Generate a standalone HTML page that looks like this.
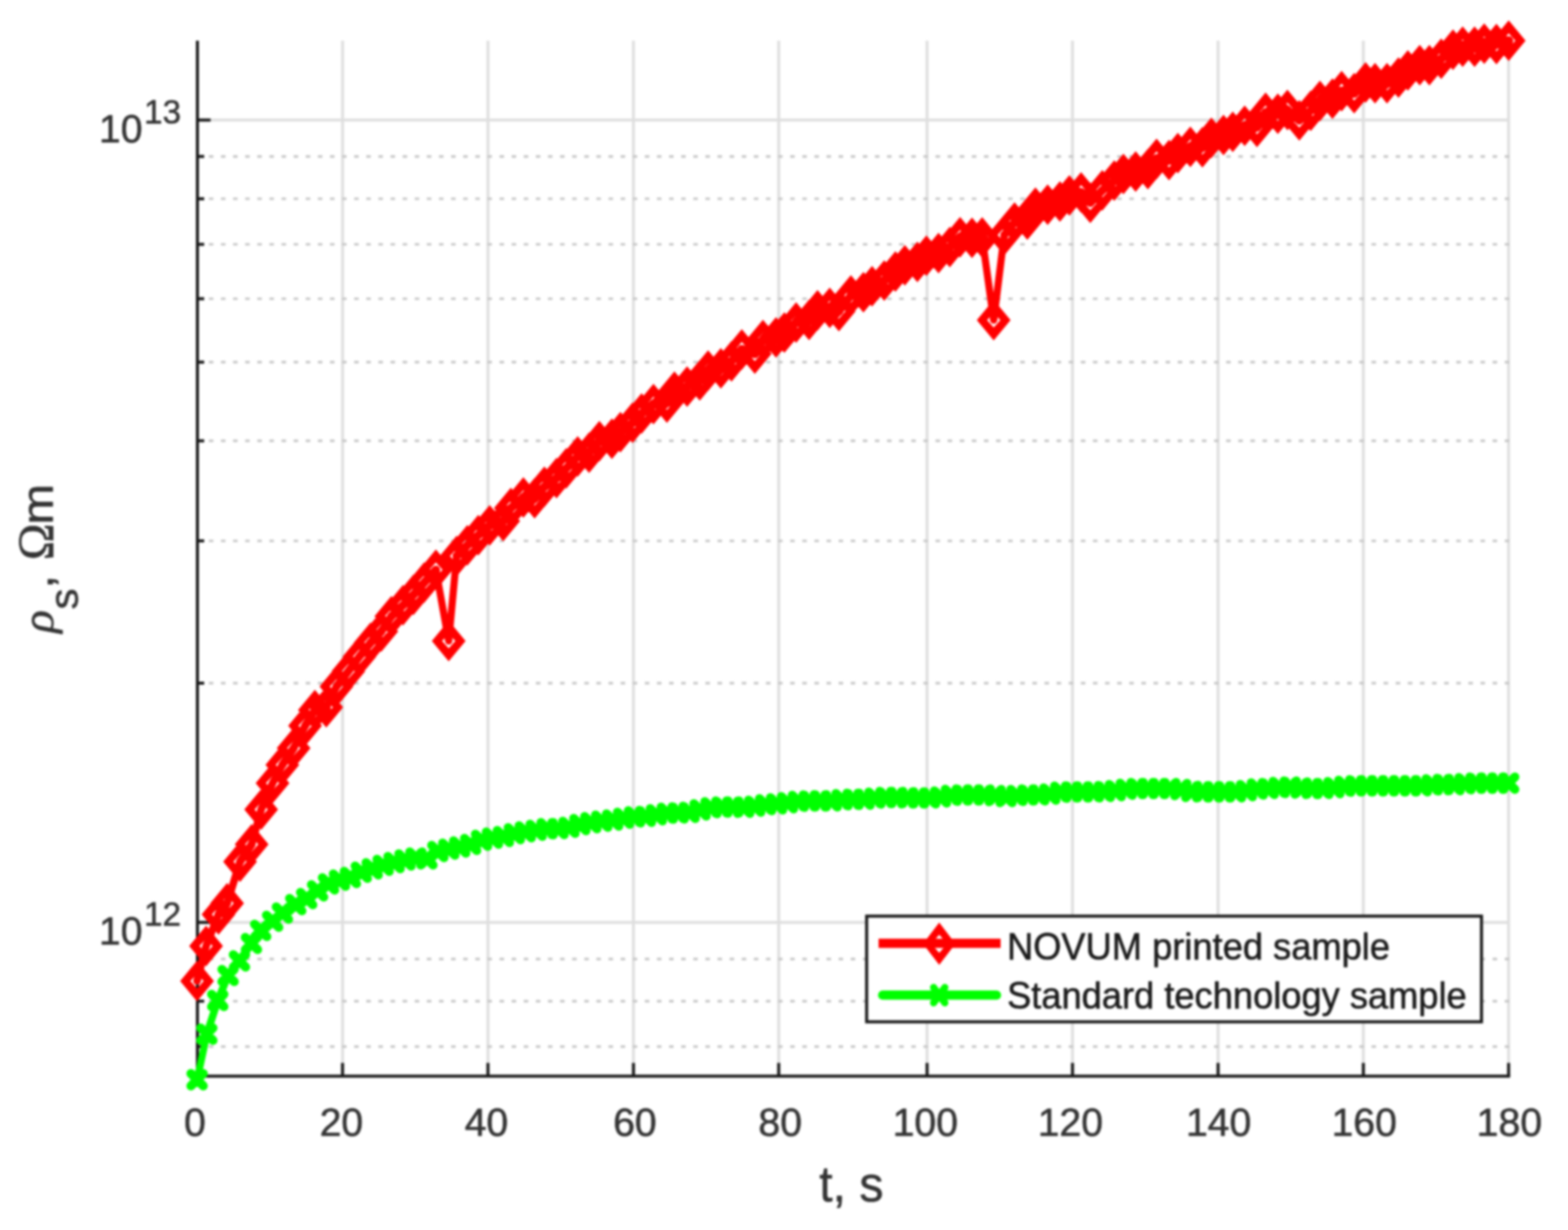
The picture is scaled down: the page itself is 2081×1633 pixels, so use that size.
<!DOCTYPE html>
<html lang="en">
<head>
<meta charset="utf-8">
<title>Surface resistivity vs time</title>
<style>
html,body{margin:0;padding:0;background:#fff;}
body{width:2081px;height:1633px;overflow:hidden;}
svg{display:block;filter:blur(1.5px);}
</style>
</head>
<body>
<svg width="2081" height="1633" viewBox="0 0 2081 1633">
<rect x="0" y="0" width="2081" height="1633" fill="#ffffff"/>
<g stroke="#dedede" stroke-width="3.8" fill="none">
<line x1="454.6" y1="53.9" x2="454.6" y2="1428.7"/>
<line x1="647.6" y1="53.9" x2="647.6" y2="1428.7"/>
<line x1="840.7" y1="53.9" x2="840.7" y2="1428.7"/>
<line x1="1033.5" y1="53.9" x2="1033.5" y2="1428.7"/>
<line x1="1230.4" y1="53.9" x2="1230.4" y2="1428.7"/>
<line x1="1423.4" y1="53.9" x2="1423.4" y2="1428.7"/>
<line x1="1616.6" y1="53.9" x2="1616.6" y2="1428.7"/>
<line x1="1809.4" y1="53.9" x2="1809.4" y2="1428.7"/>
<line x1="2002.2" y1="53.9" x2="2002.2" y2="1428.7"/>
<line x1="262.0" y1="1224.6" x2="2002.2" y2="1224.6"/>
<line x1="262.0" y1="159.4" x2="2002.2" y2="159.4"/>
</g>
<g stroke="#c8c8c8" stroke-width="3.4" fill="none" stroke-dasharray="6 10.073">
<line x1="277.2" y1="1389.5" x2="2004.2" y2="1389.5"/>
<line x1="277.2" y1="1329.2" x2="2004.2" y2="1329.2"/>
<line x1="277.2" y1="1273.2" x2="2004.2" y2="1273.2"/>
<line x1="277.2" y1="907.0" x2="2004.2" y2="907.0"/>
<line x1="277.2" y1="718.1" x2="2004.2" y2="718.1"/>
<line x1="277.2" y1="585.3" x2="2004.2" y2="585.3"/>
<line x1="277.2" y1="480.8" x2="2004.2" y2="480.8"/>
<line x1="277.2" y1="396.6" x2="2004.2" y2="396.6"/>
<line x1="277.2" y1="324.4" x2="2004.2" y2="324.4"/>
<line x1="277.2" y1="263.9" x2="2004.2" y2="263.9"/>
<line x1="277.2" y1="207.7" x2="2004.2" y2="207.7"/>
</g>
<g stroke="#181818" stroke-width="4.0" fill="none" stroke-linecap="butt">
<line x1="262.0" y1="53.9" x2="262.0" y2="1430.7"/>
<line x1="260.0" y1="1428.7" x2="2004.2" y2="1428.7"/>
<line x1="262.0" y1="1428.7" x2="262.0" y2="1411.2"/>
<line x1="454.6" y1="1428.7" x2="454.6" y2="1411.2"/>
<line x1="647.6" y1="1428.7" x2="647.6" y2="1411.2"/>
<line x1="840.7" y1="1428.7" x2="840.7" y2="1411.2"/>
<line x1="1033.5" y1="1428.7" x2="1033.5" y2="1411.2"/>
<line x1="1230.4" y1="1428.7" x2="1230.4" y2="1411.2"/>
<line x1="1423.4" y1="1428.7" x2="1423.4" y2="1411.2"/>
<line x1="1616.6" y1="1428.7" x2="1616.6" y2="1411.2"/>
<line x1="1809.4" y1="1428.7" x2="1809.4" y2="1411.2"/>
<line x1="2002.2" y1="1428.7" x2="2002.2" y2="1411.2"/>
<line x1="262.0" y1="1224.6" x2="279.5" y2="1224.6"/>
<line x1="262.0" y1="159.4" x2="279.5" y2="159.4"/>
<line x1="262.0" y1="1389.5" x2="271.0" y2="1389.5"/>
<line x1="262.0" y1="1329.2" x2="271.0" y2="1329.2"/>
<line x1="262.0" y1="1273.2" x2="271.0" y2="1273.2"/>
<line x1="262.0" y1="907.0" x2="271.0" y2="907.0"/>
<line x1="262.0" y1="718.1" x2="271.0" y2="718.1"/>
<line x1="262.0" y1="585.3" x2="271.0" y2="585.3"/>
<line x1="262.0" y1="480.8" x2="271.0" y2="480.8"/>
<line x1="262.0" y1="396.6" x2="271.0" y2="396.6"/>
<line x1="262.0" y1="324.4" x2="271.0" y2="324.4"/>
<line x1="262.0" y1="263.9" x2="271.0" y2="263.9"/>
<line x1="262.0" y1="207.7" x2="271.0" y2="207.7"/>
</g>
<g stroke="#ff0000" fill="none" stroke-linejoin="round" stroke-linecap="round">
<path stroke-width="10.0" d="M261.5 1302.5L273.5 1256.0L290.0 1214.0"/>
<path stroke-width="10.5" d="M290.0 1214.0L301.4 1199.3"/>
<path stroke-width="10.0" d="M301.4 1199.3L318.6 1144.0"/>
<path stroke-width="10.5" d="M318.6 1144.0L334.0 1121.0"/>
<path stroke-width="10.0" d="M334.0 1121.0L346.6 1074.7L361.7 1039.8L374.7 1015.5"/>
<path stroke-width="10.5" d="M374.7 1015.5L389.7 993.2"/>
<path stroke-width="10.0" d="M389.7 993.2L404.9 963.6"/>
<path stroke-width="10.5" d="M404.9 963.6L417.9 942.7"/>
<path stroke-width="12.0" d="M417.9 942.7L433.0 939.0"/>
<path stroke-width="10.0" d="M433.0 939.0L446.5 911.5"/>
<path stroke-width="10.5" d="M446.5 911.5L462.5 891.0L476.9 871.9L491.7 853.6"/>
<path stroke-width="11.0" d="M491.7 853.6L506.1 838.2"/>
<path stroke-width="10.5" d="M506.1 838.2L519.4 818.3"/>
<path stroke-width="11.0" d="M519.4 818.3L534.9 803.6L548.9 789.5L562.9 773.6L578.5 756.5"/>
<path stroke-width="9.5" d="M578.5 756.5L595.5 851.0L606.0 738.2"/>
<path stroke-width="11.0" d="M606.0 738.2L620.2 724.0L634.8 710.5L649.9 697.5"/>
<path stroke-width="12.0" d="M649.9 697.5L667.9 691.7"/>
<path stroke-width="10.5" d="M667.9 691.7L678.0 674.4"/>
<path stroke-width="11.0" d="M678.0 674.4L694.6 660.6"/>
<path stroke-width="12.5" d="M694.6 660.6L709.5 661.5"/>
<path stroke-width="10.5" d="M709.5 661.5L722.5 646.2"/>
<path stroke-width="11.5" d="M722.5 646.2L738.6 634.8"/>
<path stroke-width="11.0" d="M738.6 634.8L751.5 621.8L766.7 606.0"/>
<path stroke-width="12.0" d="M766.7 606.0L781.8 600.9"/>
<path stroke-width="11.0" d="M781.8 600.9L795.5 585.8"/>
<path stroke-width="12.0" d="M795.5 585.8L812.1 582.5"/>
<path stroke-width="11.5" d="M812.1 582.5L823.4 573.7L839.5 561.3"/>
<path stroke-width="11.0" d="M839.5 561.3L851.5 549.0"/>
<path stroke-width="11.5" d="M851.5 549.0L867.3 536.4"/>
<path stroke-width="12.5" d="M867.3 536.4L885.1 534.5"/>
<path stroke-width="10.5" d="M885.1 534.5L895.1 520.1"/>
<path stroke-width="12.0" d="M895.1 520.1L911.9 513.2L928.7 505.0"/>
<path stroke-width="10.5" d="M928.7 505.0L939.8 492.0"/>
<path stroke-width="12.0" d="M939.8 492.0L956.7 489.1"/>
<path stroke-width="11.5" d="M956.7 489.1L970.8 479.7"/>
<path stroke-width="11.0" d="M970.8 479.7L984.5 463.9"/>
<path stroke-width="12.0" d="M984.5 463.9L1001.8 469.6"/>
<path stroke-width="10.5" d="M1001.8 469.6L1012.6 451.6"/>
<path stroke-width="12.0" d="M1012.6 451.6L1029.9 448.0"/>
<path stroke-width="11.5" d="M1029.9 448.0L1041.0 441.5"/>
<path stroke-width="11.0" d="M1041.0 441.5L1056.6 428.2"/>
<path stroke-width="12.0" d="M1056.6 428.2L1073.8 424.8"/>
<path stroke-width="11.0" d="M1073.8 424.8L1085.0 411.9"/>
<path stroke-width="12.0" d="M1085.0 411.9L1101.2 408.8L1113.4 413.1"/>
<path stroke-width="10.5" d="M1113.4 413.1L1129.3 392.2"/>
<path stroke-width="12.0" d="M1129.3 392.2L1145.9 387.9"/>
<path stroke-width="11.5" d="M1145.9 387.9L1157.4 379.9"/>
<path stroke-width="12.0" d="M1157.4 379.9L1173.5 372.4"/>
<path stroke-width="11.0" d="M1173.5 372.4L1188.4 360.5"/>
<path stroke-width="11.5" d="M1188.4 360.5L1200.9 352.2"/>
<path stroke-width="12.0" d="M1200.9 352.2L1217.5 347.8"/>
<path stroke-width="11.5" d="M1217.5 347.8L1229.5 339.6"/>
<path stroke-width="12.0" d="M1229.5 339.6L1245.6 336.0"/>
<path stroke-width="11.5" d="M1245.6 336.0L1260.5 328.0"/>
<path stroke-width="11.0" d="M1260.5 328.0L1274.2 315.1"/>
<path stroke-width="12.5" d="M1274.2 315.1L1290.0 315.8L1303.5 315.3"/>
<path stroke-width="9.5" d="M1303.5 315.3L1318.8 425.0L1332.8 312.0"/>
<path stroke-width="10.5" d="M1332.8 312.0L1346.5 295.5"/>
<path stroke-width="12.0" d="M1346.5 295.5L1363.4 291.6"/>
<path stroke-width="10.5" d="M1363.4 291.6L1374.2 275.8"/>
<path stroke-width="12.0" d="M1374.2 275.8L1390.4 271.7L1406.7 267.4"/>
<path stroke-width="11.5" d="M1406.7 267.4L1419.2 259.6"/>
<path stroke-width="12.0" d="M1419.2 259.6L1434.8 255.6"/>
<path stroke-width="11.0" d="M1434.8 255.6L1447.0 269.3L1462.9 252.7L1478.8 239.7"/>
<path stroke-width="11.5" d="M1478.8 239.7L1491.0 231.1"/>
<path stroke-width="12.0" d="M1491.0 231.1L1507.2 227.8L1523.4 224.6"/>
<path stroke-width="10.5" d="M1523.4 224.6L1535.0 210.9"/>
<path stroke-width="12.5" d="M1535.0 210.9L1551.5 212.4"/>
<path stroke-width="11.5" d="M1551.5 212.4L1563.2 203.3L1579.8 194.9"/>
<path stroke-width="12.5" d="M1579.8 194.9L1595.8 195.5"/>
<path stroke-width="11.0" d="M1595.8 195.5L1607.7 182.9"/>
<path stroke-width="12.0" d="M1607.7 182.9L1623.8 179.3L1636.1 175.0"/>
<path stroke-width="11.5" d="M1636.1 175.0L1651.9 167.0"/>
<path stroke-width="12.5" d="M1651.9 167.0L1668.2 168.5"/>
<path stroke-width="10.5" d="M1668.2 168.5L1679.7 149.7"/>
<path stroke-width="12.5" d="M1679.7 149.7L1695.9 150.9"/>
<path stroke-width="12.0" d="M1695.9 150.9L1708.6 146.1"/>
<path stroke-width="11.0" d="M1708.6 146.1L1724.4 159.8L1739.6 146.9L1751.8 133.9"/>
<path stroke-width="12.0" d="M1751.8 133.9L1768.4 131.0"/>
<path stroke-width="11.0" d="M1768.4 131.0L1780.6 120.9"/>
<path stroke-width="12.0" d="M1780.6 120.9L1797.2 123.8"/>
<path stroke-width="11.0" d="M1797.2 123.8L1812.4 109.4"/>
<path stroke-width="12.5" d="M1812.4 109.4L1824.9 110.5L1840.8 110.5"/>
<path stroke-width="12.0" d="M1840.8 110.5L1856.0 103.0"/>
<path stroke-width="11.5" d="M1856.0 103.0L1868.5 93.4"/>
<path stroke-width="12.0" d="M1868.5 93.4L1884.2 86.4"/>
<path stroke-width="12.5" d="M1884.2 86.4L1897.0 86.6"/>
<path stroke-width="11.5" d="M1897.0 86.6L1912.7 78.0L1928.4 66.0"/>
<path stroke-width="12.0" d="M1928.4 66.0L1941.2 62.0"/>
<path stroke-width="12.5" d="M1941.2 62.0L1957.0 62.0"/>
<path stroke-width="12.0" d="M1957.0 62.0L1969.8 58.0"/>
<path stroke-width="12.5" d="M1969.8 58.0L1986.0 58.5"/>
<path stroke-width="12.0" d="M1986.0 58.5L2002.3 54.0"/>
</g>
<path fill="#ff0000" fill-rule="nonzero" d="M261.5 1275.5L283.9 1302.5L261.5 1329.5L239.1 1302.5ZM261.5 1292.7L252.7 1302.5L261.5 1312.3L270.3 1302.5ZM273.5 1229.0L295.9 1256.0L273.5 1283.0L251.1 1256.0ZM273.5 1246.2L264.7 1256.0L273.5 1265.8L282.3 1256.0ZM290.0 1187.0L312.4 1214.0L290.0 1241.0L267.6 1214.0ZM290.0 1204.2L281.2 1214.0L290.0 1223.8L298.8 1214.0ZM301.4 1172.3L323.8 1199.3L301.4 1226.3L279.0 1199.3ZM301.4 1189.5L292.6 1199.3L301.4 1209.1L310.2 1199.3ZM318.6 1117.0L341.0 1144.0L318.6 1171.0L296.2 1144.0ZM318.6 1134.2L309.8 1144.0L318.6 1153.8L327.4 1144.0ZM334.0 1094.0L356.4 1121.0L334.0 1148.0L311.6 1121.0ZM334.0 1111.2L325.2 1121.0L334.0 1130.8L342.8 1121.0ZM346.6 1047.7L369.0 1074.7L346.6 1101.7L324.2 1074.7ZM346.6 1064.9L337.8 1074.7L346.6 1084.5L355.4 1074.7ZM361.7 1012.8L384.1 1039.8L361.7 1066.8L339.3 1039.8ZM361.7 1030.0L352.9 1039.8L361.7 1049.6L370.5 1039.8ZM374.7 988.5L397.1 1015.5L374.7 1042.5L352.3 1015.5ZM374.7 1005.7L365.9 1015.5L374.7 1025.3L383.5 1015.5ZM389.7 966.2L412.1 993.2L389.7 1020.2L367.3 993.2ZM389.7 983.4L380.9 993.2L389.7 1003.0L398.5 993.2ZM404.9 936.6L427.3 963.6L404.9 990.6L382.5 963.6ZM404.9 953.8L396.1 963.6L404.9 973.4L413.7 963.6ZM417.9 915.7L440.3 942.7L417.9 969.7L395.5 942.7ZM417.9 932.9L409.1 942.7L417.9 952.5L426.7 942.7ZM433.0 912.0L455.4 939.0L433.0 966.0L410.6 939.0ZM433.0 929.2L424.2 939.0L433.0 948.8L441.8 939.0ZM446.5 884.5L468.9 911.5L446.5 938.5L424.1 911.5ZM446.5 901.7L437.7 911.5L446.5 921.3L455.3 911.5ZM462.5 864.0L484.9 891.0L462.5 918.0L440.1 891.0ZM462.5 881.2L453.7 891.0L462.5 900.8L471.3 891.0ZM476.9 844.9L499.3 871.9L476.9 898.9L454.5 871.9ZM476.9 862.1L468.1 871.9L476.9 881.7L485.7 871.9ZM491.7 826.6L514.1 853.6L491.7 880.6L469.3 853.6ZM491.7 843.8L482.9 853.6L491.7 863.4L500.5 853.6ZM506.1 811.2L528.5 838.2L506.1 865.2L483.7 838.2ZM506.1 828.4L497.3 838.2L506.1 848.0L514.9 838.2ZM519.4 791.3L541.8 818.3L519.4 845.3L497.0 818.3ZM519.4 808.5L510.6 818.3L519.4 828.1L528.2 818.3ZM534.9 776.6L557.3 803.6L534.9 830.6L512.5 803.6ZM534.9 793.8L526.1 803.6L534.9 813.4L543.7 803.6ZM548.9 762.5L571.3 789.5L548.9 816.5L526.5 789.5ZM548.9 779.7L540.1 789.5L548.9 799.3L557.7 789.5ZM562.9 746.6L585.3 773.6L562.9 800.6L540.5 773.6ZM562.9 763.8L554.1 773.6L562.9 783.4L571.7 773.6ZM578.5 729.5L600.9 756.5L578.5 783.5L556.1 756.5ZM578.5 746.7L569.7 756.5L578.5 766.3L587.3 756.5ZM595.5 824.0L617.9 851.0L595.5 878.0L573.1 851.0ZM595.5 841.2L586.7 851.0L595.5 860.8L604.3 851.0ZM606.0 711.2L628.4 738.2L606.0 765.2L583.6 738.2ZM606.0 728.4L597.2 738.2L606.0 748.0L614.8 738.2ZM620.2 697.0L642.6 724.0L620.2 751.0L597.8 724.0ZM620.2 714.2L611.4 724.0L620.2 733.8L629.0 724.0ZM634.8 683.5L657.2 710.5L634.8 737.5L612.4 710.5ZM634.8 700.7L626.0 710.5L634.8 720.3L643.6 710.5ZM649.9 670.5L672.3 697.5L649.9 724.5L627.5 697.5ZM649.9 687.7L641.1 697.5L649.9 707.3L658.7 697.5ZM667.9 664.7L690.3 691.7L667.9 718.7L645.5 691.7ZM667.9 681.9L659.1 691.7L667.9 701.5L676.7 691.7ZM678.0 647.4L700.4 674.4L678.0 701.4L655.6 674.4ZM678.0 664.6L669.2 674.4L678.0 684.2L686.8 674.4ZM694.6 633.6L717.0 660.6L694.6 687.6L672.2 660.6ZM694.6 650.8L685.8 660.6L694.6 670.4L703.4 660.6ZM709.5 634.5L731.9 661.5L709.5 688.5L687.1 661.5ZM709.5 651.7L700.7 661.5L709.5 671.3L718.3 661.5ZM722.5 619.2L744.9 646.2L722.5 673.2L700.1 646.2ZM722.5 636.4L713.7 646.2L722.5 656.0L731.3 646.2ZM738.6 607.8L761.0 634.8L738.6 661.8L716.2 634.8ZM738.6 625.0L729.8 634.8L738.6 644.6L747.4 634.8ZM751.5 594.8L773.9 621.8L751.5 648.8L729.1 621.8ZM751.5 612.0L742.7 621.8L751.5 631.6L760.3 621.8ZM766.7 579.0L789.1 606.0L766.7 633.0L744.3 606.0ZM766.7 596.2L757.9 606.0L766.7 615.8L775.5 606.0ZM781.8 573.9L804.2 600.9L781.8 627.9L759.4 600.9ZM781.8 591.1L773.0 600.9L781.8 610.7L790.6 600.9ZM795.5 558.8L817.9 585.8L795.5 612.8L773.1 585.8ZM795.5 576.0L786.7 585.8L795.5 595.6L804.3 585.8ZM812.1 555.5L834.5 582.5L812.1 609.5L789.7 582.5ZM812.1 572.7L803.3 582.5L812.1 592.3L820.9 582.5ZM823.4 546.7L845.8 573.7L823.4 600.7L801.0 573.7ZM823.4 563.9L814.6 573.7L823.4 583.5L832.2 573.7ZM839.5 534.3L861.9 561.3L839.5 588.3L817.1 561.3ZM839.5 551.5L830.7 561.3L839.5 571.1L848.3 561.3ZM851.5 522.0L873.9 549.0L851.5 576.0L829.1 549.0ZM851.5 539.2L842.7 549.0L851.5 558.8L860.3 549.0ZM867.3 509.4L889.7 536.4L867.3 563.4L844.9 536.4ZM867.3 526.6L858.5 536.4L867.3 546.2L876.1 536.4ZM885.1 507.5L907.5 534.5L885.1 561.5L862.7 534.5ZM885.1 524.7L876.3 534.5L885.1 544.3L893.9 534.5ZM895.1 493.1L917.5 520.1L895.1 547.1L872.7 520.1ZM895.1 510.3L886.3 520.1L895.1 529.9L903.9 520.1ZM911.9 486.2L934.3 513.2L911.9 540.2L889.5 513.2ZM911.9 503.4L903.1 513.2L911.9 523.0L920.7 513.2ZM928.7 478.0L951.1 505.0L928.7 532.0L906.3 505.0ZM928.7 495.2L919.9 505.0L928.7 514.8L937.5 505.0ZM939.8 465.0L962.2 492.0L939.8 519.0L917.4 492.0ZM939.8 482.2L931.0 492.0L939.8 501.8L948.6 492.0ZM956.7 462.1L979.1 489.1L956.7 516.1L934.3 489.1ZM956.7 479.3L947.9 489.1L956.7 498.9L965.5 489.1ZM970.8 452.7L993.2 479.7L970.8 506.7L948.4 479.7ZM970.8 469.9L962.0 479.7L970.8 489.5L979.6 479.7ZM984.5 436.9L1006.9 463.9L984.5 490.9L962.1 463.9ZM984.5 454.1L975.7 463.9L984.5 473.7L993.3 463.9ZM1001.8 442.6L1024.2 469.6L1001.8 496.6L979.4 469.6ZM1001.8 459.8L993.0 469.6L1001.8 479.4L1010.6 469.6ZM1012.6 424.6L1035.0 451.6L1012.6 478.6L990.2 451.6ZM1012.6 441.8L1003.8 451.6L1012.6 461.4L1021.4 451.6ZM1029.9 421.0L1052.3 448.0L1029.9 475.0L1007.5 448.0ZM1029.9 438.2L1021.1 448.0L1029.9 457.8L1038.7 448.0ZM1041.0 414.5L1063.4 441.5L1041.0 468.5L1018.6 441.5ZM1041.0 431.7L1032.2 441.5L1041.0 451.3L1049.8 441.5ZM1056.6 401.2L1079.0 428.2L1056.6 455.2L1034.2 428.2ZM1056.6 418.4L1047.8 428.2L1056.6 438.0L1065.4 428.2ZM1073.8 397.8L1096.2 424.8L1073.8 451.8L1051.4 424.8ZM1073.8 415.0L1065.0 424.8L1073.8 434.6L1082.6 424.8ZM1085.0 384.9L1107.4 411.9L1085.0 438.9L1062.6 411.9ZM1085.0 402.1L1076.2 411.9L1085.0 421.7L1093.8 411.9ZM1101.2 381.8L1123.6 408.8L1101.2 435.8L1078.8 408.8ZM1101.2 399.0L1092.4 408.8L1101.2 418.6L1110.0 408.8ZM1113.4 386.1L1135.8 413.1L1113.4 440.1L1091.0 413.1ZM1113.4 403.3L1104.6 413.1L1113.4 422.9L1122.2 413.1ZM1129.3 365.2L1151.7 392.2L1129.3 419.2L1106.9 392.2ZM1129.3 382.4L1120.5 392.2L1129.3 402.0L1138.1 392.2ZM1145.9 360.9L1168.3 387.9L1145.9 414.9L1123.5 387.9ZM1145.9 378.1L1137.1 387.9L1145.9 397.7L1154.7 387.9ZM1157.4 352.9L1179.8 379.9L1157.4 406.9L1135.0 379.9ZM1157.4 370.1L1148.6 379.9L1157.4 389.7L1166.2 379.9ZM1173.5 345.4L1195.9 372.4L1173.5 399.4L1151.1 372.4ZM1173.5 362.6L1164.7 372.4L1173.5 382.2L1182.3 372.4ZM1188.4 333.5L1210.8 360.5L1188.4 387.5L1166.0 360.5ZM1188.4 350.7L1179.6 360.5L1188.4 370.3L1197.2 360.5ZM1200.9 325.2L1223.3 352.2L1200.9 379.2L1178.5 352.2ZM1200.9 342.4L1192.1 352.2L1200.9 362.0L1209.7 352.2ZM1217.5 320.8L1239.9 347.8L1217.5 374.8L1195.1 347.8ZM1217.5 338.0L1208.7 347.8L1217.5 357.6L1226.3 347.8ZM1229.5 312.6L1251.9 339.6L1229.5 366.6L1207.1 339.6ZM1229.5 329.8L1220.7 339.6L1229.5 349.4L1238.3 339.6ZM1245.6 309.0L1268.0 336.0L1245.6 363.0L1223.2 336.0ZM1245.6 326.2L1236.8 336.0L1245.6 345.8L1254.4 336.0ZM1260.5 301.0L1282.9 328.0L1260.5 355.0L1238.1 328.0ZM1260.5 318.2L1251.7 328.0L1260.5 337.8L1269.3 328.0ZM1274.2 288.1L1296.6 315.1L1274.2 342.1L1251.8 315.1ZM1274.2 305.3L1265.4 315.1L1274.2 324.9L1283.0 315.1ZM1290.0 288.8L1312.4 315.8L1290.0 342.8L1267.6 315.8ZM1290.0 306.0L1281.2 315.8L1290.0 325.6L1298.8 315.8ZM1303.5 288.3L1325.9 315.3L1303.5 342.3L1281.1 315.3ZM1303.5 305.5L1294.7 315.3L1303.5 325.1L1312.3 315.3ZM1318.8 398.0L1341.2 425.0L1318.8 452.0L1296.4 425.0ZM1318.8 415.2L1310.0 425.0L1318.8 434.8L1327.6 425.0ZM1332.8 285.0L1355.2 312.0L1332.8 339.0L1310.4 312.0ZM1332.8 302.2L1324.0 312.0L1332.8 321.8L1341.6 312.0ZM1346.5 268.5L1368.9 295.5L1346.5 322.5L1324.1 295.5ZM1346.5 285.7L1337.7 295.5L1346.5 305.3L1355.3 295.5ZM1363.4 264.6L1385.8 291.6L1363.4 318.6L1341.0 291.6ZM1363.4 281.8L1354.6 291.6L1363.4 301.4L1372.2 291.6ZM1374.2 248.8L1396.6 275.8L1374.2 302.8L1351.8 275.8ZM1374.2 266.0L1365.4 275.8L1374.2 285.6L1383.0 275.8ZM1390.4 244.7L1412.8 271.7L1390.4 298.7L1368.0 271.7ZM1390.4 261.9L1381.6 271.7L1390.4 281.5L1399.2 271.7ZM1406.7 240.4L1429.1 267.4L1406.7 294.4L1384.3 267.4ZM1406.7 257.6L1397.9 267.4L1406.7 277.2L1415.5 267.4ZM1419.2 232.6L1441.6 259.6L1419.2 286.6L1396.8 259.6ZM1419.2 249.8L1410.4 259.6L1419.2 269.4L1428.0 259.6ZM1434.8 228.6L1457.2 255.6L1434.8 282.6L1412.4 255.6ZM1434.8 245.8L1426.0 255.6L1434.8 265.4L1443.6 255.6ZM1447.0 242.3L1469.4 269.3L1447.0 296.3L1424.6 269.3ZM1447.0 259.5L1438.2 269.3L1447.0 279.1L1455.8 269.3ZM1462.9 225.7L1485.3 252.7L1462.9 279.7L1440.5 252.7ZM1462.9 242.9L1454.1 252.7L1462.9 262.5L1471.7 252.7ZM1478.8 212.7L1501.2 239.7L1478.8 266.7L1456.4 239.7ZM1478.8 229.9L1470.0 239.7L1478.8 249.5L1487.6 239.7ZM1491.0 204.1L1513.4 231.1L1491.0 258.1L1468.6 231.1ZM1491.0 221.3L1482.2 231.1L1491.0 240.9L1499.8 231.1ZM1507.2 200.8L1529.6 227.8L1507.2 254.8L1484.8 227.8ZM1507.2 218.0L1498.4 227.8L1507.2 237.6L1516.0 227.8ZM1523.4 197.6L1545.8 224.6L1523.4 251.6L1501.0 224.6ZM1523.4 214.8L1514.6 224.6L1523.4 234.4L1532.2 224.6ZM1535.0 183.9L1557.4 210.9L1535.0 237.9L1512.6 210.9ZM1535.0 201.1L1526.2 210.9L1535.0 220.7L1543.8 210.9ZM1551.5 185.4L1573.9 212.4L1551.5 239.4L1529.1 212.4ZM1551.5 202.6L1542.7 212.4L1551.5 222.2L1560.3 212.4ZM1563.2 176.3L1585.6 203.3L1563.2 230.3L1540.8 203.3ZM1563.2 193.5L1554.4 203.3L1563.2 213.1L1572.0 203.3ZM1579.8 167.9L1602.2 194.9L1579.8 221.9L1557.4 194.9ZM1579.8 185.1L1571.0 194.9L1579.8 204.7L1588.6 194.9ZM1595.8 168.5L1618.2 195.5L1595.8 222.5L1573.4 195.5ZM1595.8 185.7L1587.0 195.5L1595.8 205.3L1604.6 195.5ZM1607.7 155.9L1630.1 182.9L1607.7 209.9L1585.3 182.9ZM1607.7 173.1L1598.9 182.9L1607.7 192.7L1616.5 182.9ZM1623.8 152.3L1646.2 179.3L1623.8 206.3L1601.4 179.3ZM1623.8 169.5L1615.0 179.3L1623.8 189.1L1632.6 179.3ZM1636.1 148.0L1658.5 175.0L1636.1 202.0L1613.7 175.0ZM1636.1 165.2L1627.3 175.0L1636.1 184.8L1644.9 175.0ZM1651.9 140.0L1674.3 167.0L1651.9 194.0L1629.5 167.0ZM1651.9 157.2L1643.1 167.0L1651.9 176.8L1660.7 167.0ZM1668.2 141.5L1690.6 168.5L1668.2 195.5L1645.8 168.5ZM1668.2 158.7L1659.4 168.5L1668.2 178.3L1677.0 168.5ZM1679.7 122.7L1702.1 149.7L1679.7 176.7L1657.3 149.7ZM1679.7 139.9L1670.9 149.7L1679.7 159.5L1688.5 149.7ZM1695.9 123.9L1718.3 150.9L1695.9 177.9L1673.5 150.9ZM1695.9 141.1L1687.1 150.9L1695.9 160.7L1704.7 150.9ZM1708.6 119.1L1731.0 146.1L1708.6 173.1L1686.2 146.1ZM1708.6 136.3L1699.8 146.1L1708.6 155.9L1717.4 146.1ZM1724.4 132.8L1746.8 159.8L1724.4 186.8L1702.0 159.8ZM1724.4 150.0L1715.6 159.8L1724.4 169.6L1733.2 159.8ZM1739.6 119.9L1762.0 146.9L1739.6 173.9L1717.2 146.9ZM1739.6 137.1L1730.8 146.9L1739.6 156.7L1748.4 146.9ZM1751.8 106.9L1774.2 133.9L1751.8 160.9L1729.4 133.9ZM1751.8 124.1L1743.0 133.9L1751.8 143.7L1760.6 133.9ZM1768.4 104.0L1790.8 131.0L1768.4 158.0L1746.0 131.0ZM1768.4 121.2L1759.6 131.0L1768.4 140.8L1777.2 131.0ZM1780.6 93.9L1803.0 120.9L1780.6 147.9L1758.2 120.9ZM1780.6 111.1L1771.8 120.9L1780.6 130.7L1789.4 120.9ZM1797.2 96.8L1819.6 123.8L1797.2 150.8L1774.8 123.8ZM1797.2 114.0L1788.4 123.8L1797.2 133.6L1806.0 123.8ZM1812.4 82.4L1834.8 109.4L1812.4 136.4L1790.0 109.4ZM1812.4 99.6L1803.6 109.4L1812.4 119.2L1821.2 109.4ZM1824.9 83.5L1847.3 110.5L1824.9 137.5L1802.5 110.5ZM1824.9 100.7L1816.1 110.5L1824.9 120.3L1833.7 110.5ZM1840.8 83.5L1863.2 110.5L1840.8 137.5L1818.4 110.5ZM1840.8 100.7L1832.0 110.5L1840.8 120.3L1849.6 110.5ZM1856.0 76.0L1878.4 103.0L1856.0 130.0L1833.6 103.0ZM1856.0 93.2L1847.2 103.0L1856.0 112.8L1864.8 103.0ZM1868.5 66.4L1890.9 93.4L1868.5 120.4L1846.1 93.4ZM1868.5 83.6L1859.7 93.4L1868.5 103.2L1877.3 93.4ZM1884.2 59.4L1906.6 86.4L1884.2 113.4L1861.8 86.4ZM1884.2 76.6L1875.4 86.4L1884.2 96.2L1893.0 86.4ZM1897.0 59.6L1919.4 86.6L1897.0 113.6L1874.6 86.6ZM1897.0 76.8L1888.2 86.6L1897.0 96.4L1905.8 86.6ZM1912.7 51.0L1935.1 78.0L1912.7 105.0L1890.3 78.0ZM1912.7 68.2L1903.9 78.0L1912.7 87.8L1921.5 78.0ZM1928.4 39.0L1950.8 66.0L1928.4 93.0L1906.0 66.0ZM1928.4 56.2L1919.6 66.0L1928.4 75.8L1937.2 66.0ZM1941.2 35.0L1963.6 62.0L1941.2 89.0L1918.8 62.0ZM1941.2 52.2L1932.4 62.0L1941.2 71.8L1950.0 62.0ZM1957.0 35.0L1979.4 62.0L1957.0 89.0L1934.6 62.0ZM1957.0 52.2L1948.2 62.0L1957.0 71.8L1965.8 62.0ZM1969.8 31.0L1992.2 58.0L1969.8 85.0L1947.4 58.0ZM1969.8 48.2L1961.0 58.0L1969.8 67.8L1978.6 58.0ZM1986.0 31.5L2008.4 58.5L1986.0 85.5L1963.6 58.5ZM1986.0 48.7L1977.2 58.5L1986.0 68.3L1994.8 58.5ZM2002.3 27.0L2024.7 54.0L2002.3 81.0L1979.9 54.0ZM2002.3 44.2L1993.5 54.0L2002.3 63.8L2011.1 54.0Z"/>
<g stroke="#00ff00" fill="none" stroke-linecap="round" stroke-linejoin="round">
<path stroke-width="9.5" d="M261.6 1433.5L274.5 1373.0"/>
<path stroke-width="10.0" d="M274.5 1373.0L289.0 1328.3L302.7 1295.1"/>
<path stroke-width="11.0" d="M302.7 1295.1L317.8 1275.7"/>
<path stroke-width="10.5" d="M317.8 1275.7L333.7 1252.6L346.0 1235.3"/>
<path stroke-width="11.5" d="M346.0 1235.3L361.8 1223.1L374.8 1212.3"/>
<path stroke-width="12.0" d="M374.8 1212.3L392.5 1201.0L407.0 1193.0L421.5 1182.7L436.0 1173.5"/>
<path stroke-width="12.5" d="M436.0 1173.5L450.5 1168.5"/>
<path stroke-width="13.0" d="M450.5 1168.5L465.0 1165.0"/>
<path stroke-width="12.5" d="M465.0 1165.0L479.5 1158.0L494.0 1153.5L508.5 1148.9"/>
<path stroke-width="13.0" d="M508.5 1148.9L523.0 1145.2L537.5 1141.7L552.0 1139.1L566.6 1140.2"/>
<path stroke-width="12.0" d="M566.6 1140.2L581.1 1130.5"/>
<path stroke-width="13.0" d="M581.1 1130.5L595.6 1127.4L610.1 1124.5L624.6 1121.1"/>
<path stroke-width="12.5" d="M624.6 1121.1L639.1 1115.6"/>
<path stroke-width="13.0" d="M639.1 1115.6L653.6 1112.7L668.1 1110.6L682.6 1106.9L697.1 1104.4L711.6 1102.4L726.1 1100.3L740.6 1100.1L755.1 1098.4L769.6 1094.7L784.1 1092.3L798.6 1090.3L813.1 1088.7L827.6 1086.4L842.1 1084.5L856.6 1083.9L871.1 1081.8L885.6 1079.6L900.1 1079.2L914.6 1078.5L929.1 1075.2L943.6 1072.4L958.1 1071.5L972.6 1071.4L987.1 1071.7L1001.6 1070.4L1016.1 1068.4L1030.6 1067.3L1045.1 1065.8L1059.6 1063.9L1074.1 1063.4L1088.6 1063.3L1103.1 1063.4L1117.6 1061.7L1132.2 1061.2L1146.7 1061.1L1161.2 1059.6L1175.7 1058.8L1190.2 1058.8L1204.7 1059.2L1219.2 1059.4L1233.7 1059.4L1248.2 1058.1L1262.7 1055.9L1277.2 1055.4L1291.7 1055.4L1306.2 1055.4L1320.7 1056.2L1335.2 1057.6L1349.7 1056.1L1364.2 1055.4L1378.7 1055.4L1393.2 1054.3L1407.7 1051.8L1422.2 1051.4L1436.7 1051.4L1451.2 1051.4L1465.7 1050.9L1480.2 1049.7L1494.7 1047.9L1509.2 1046.9L1523.7 1046.9L1538.2 1046.9L1552.7 1046.9L1567.2 1048.3L1581.7 1050.7L1596.2 1051.2L1610.7 1051.2L1625.2 1051.2L1639.7 1051.2L1654.2 1049.8L1668.7 1047.5L1683.2 1046.9L1697.7 1045.5L1712.2 1045.0L1726.8 1046.3L1741.3 1046.9L1755.8 1046.9L1770.3 1045.8L1784.8 1043.9L1799.3 1043.3L1813.8 1043.3L1828.3 1043.3L1842.8 1043.3L1857.3 1043.3L1871.8 1043.3L1886.3 1043.3L1900.8 1042.0L1915.3 1041.5L1929.8 1041.7L1944.3 1040.5L1958.8 1039.7L1973.3 1039.7L1987.8 1039.7L2002.3 1039.7"/>
<path stroke-width="12" d="M253.4 1425.3L269.8 1441.7M253.4 1441.7L269.8 1425.3M266.3 1364.8L282.7 1381.2M266.3 1381.2L282.7 1364.8M280.8 1320.1L297.2 1336.5M280.8 1336.5L297.2 1320.1M294.5 1286.9L310.9 1303.3M294.5 1303.3L310.9 1286.9M309.6 1267.5L326.0 1283.9M309.6 1283.9L326.0 1267.5M325.5 1244.4L341.9 1260.8M325.5 1260.8L341.9 1244.4M337.8 1227.1L354.2 1243.5M337.8 1243.5L354.2 1227.1M353.6 1214.9L370.0 1231.3M353.6 1231.3L370.0 1214.9M366.6 1204.1L383.0 1220.5M366.6 1220.5L383.0 1204.1M384.3 1192.8L400.7 1209.2M384.3 1209.2L400.7 1192.8M398.8 1184.8L415.2 1201.2M398.8 1201.2L415.2 1184.8M413.3 1174.5L429.7 1190.9M413.3 1190.9L429.7 1174.5M427.8 1165.3L444.2 1181.7M427.8 1181.7L444.2 1165.3M442.3 1160.3L458.7 1176.7M442.3 1176.7L458.7 1160.3M456.8 1156.8L473.2 1173.2M456.8 1173.2L473.2 1156.8M471.3 1149.8L487.7 1166.2M471.3 1166.2L487.7 1149.8M485.8 1145.3L502.2 1161.7M485.8 1161.7L502.2 1145.3M500.3 1140.7L516.7 1157.1M500.3 1157.1L516.7 1140.7M514.8 1137.0L531.2 1153.4M514.8 1153.4L531.2 1137.0M529.3 1133.5L545.7 1149.9M529.3 1149.9L545.7 1133.5M543.8 1130.9L560.2 1147.3M543.8 1147.3L560.2 1130.9M558.4 1132.0L574.8 1148.4M558.4 1148.4L574.8 1132.0M572.9 1122.3L589.3 1138.7M572.9 1138.7L589.3 1122.3M587.4 1119.2L603.8 1135.6M587.4 1135.6L603.8 1119.2M601.9 1116.3L618.3 1132.7M601.9 1132.7L618.3 1116.3M616.4 1112.9L632.8 1129.3M616.4 1129.3L632.8 1112.9M630.9 1107.4L647.3 1123.8M630.9 1123.8L647.3 1107.4M645.4 1104.5L661.8 1120.9M645.4 1120.9L661.8 1104.5M659.9 1102.4L676.3 1118.8M659.9 1118.8L676.3 1102.4M674.4 1098.7L690.8 1115.1M674.4 1115.1L690.8 1098.7M688.9 1096.2L705.3 1112.6M688.9 1112.6L705.3 1096.2M703.4 1094.2L719.8 1110.6M703.4 1110.6L719.8 1094.2M717.9 1092.1L734.3 1108.5M717.9 1108.5L734.3 1092.1M732.4 1091.9L748.8 1108.3M732.4 1108.3L748.8 1091.9M746.9 1090.2L763.3 1106.6M746.9 1106.6L763.3 1090.2M761.4 1086.5L777.8 1102.9M761.4 1102.9L777.8 1086.5M775.9 1084.1L792.3 1100.5M775.9 1100.5L792.3 1084.1M790.4 1082.1L806.8 1098.5M790.4 1098.5L806.8 1082.1M804.9 1080.5L821.3 1096.9M804.9 1096.9L821.3 1080.5M819.4 1078.2L835.8 1094.6M819.4 1094.6L835.8 1078.2M833.9 1076.3L850.3 1092.7M833.9 1092.7L850.3 1076.3M848.4 1075.7L864.8 1092.1M848.4 1092.1L864.8 1075.7M862.9 1073.6L879.3 1090.0M862.9 1090.0L879.3 1073.6M877.4 1071.4L893.8 1087.8M877.4 1087.8L893.8 1071.4M891.9 1071.0L908.3 1087.4M891.9 1087.4L908.3 1071.0M906.4 1070.3L922.8 1086.7M906.4 1086.7L922.8 1070.3M920.9 1067.0L937.3 1083.4M920.9 1083.4L937.3 1067.0M935.4 1064.2L951.8 1080.6M935.4 1080.6L951.8 1064.2M949.9 1063.3L966.3 1079.7M949.9 1079.7L966.3 1063.3M964.4 1063.2L980.8 1079.6M964.4 1079.6L980.8 1063.2M978.9 1063.5L995.3 1079.9M978.9 1079.9L995.3 1063.5M993.4 1062.2L1009.8 1078.6M993.4 1078.6L1009.8 1062.2M1007.9 1060.2L1024.3 1076.6M1007.9 1076.6L1024.3 1060.2M1022.4 1059.1L1038.8 1075.5M1022.4 1075.5L1038.8 1059.1M1036.9 1057.6L1053.3 1074.0M1036.9 1074.0L1053.3 1057.6M1051.4 1055.7L1067.8 1072.1M1051.4 1072.1L1067.8 1055.7M1065.9 1055.2L1082.3 1071.6M1065.9 1071.6L1082.3 1055.2M1080.4 1055.1L1096.8 1071.5M1080.4 1071.5L1096.8 1055.1M1094.9 1055.2L1111.3 1071.6M1094.9 1071.6L1111.3 1055.2M1109.4 1053.5L1125.8 1069.9M1109.4 1069.9L1125.8 1053.5M1124.0 1053.0L1140.4 1069.4M1124.0 1069.4L1140.4 1053.0M1138.5 1052.9L1154.9 1069.3M1138.5 1069.3L1154.9 1052.9M1153.0 1051.4L1169.4 1067.8M1153.0 1067.8L1169.4 1051.4M1167.5 1050.6L1183.9 1067.0M1167.5 1067.0L1183.9 1050.6M1182.0 1050.6L1198.4 1067.0M1182.0 1067.0L1198.4 1050.6M1196.5 1051.0L1212.9 1067.4M1196.5 1067.4L1212.9 1051.0M1211.0 1051.2L1227.4 1067.6M1211.0 1067.6L1227.4 1051.2M1225.5 1051.2L1241.9 1067.6M1225.5 1067.6L1241.9 1051.2M1240.0 1049.9L1256.4 1066.3M1240.0 1066.3L1256.4 1049.9M1254.5 1047.7L1270.9 1064.1M1254.5 1064.1L1270.9 1047.7M1269.0 1047.2L1285.4 1063.6M1269.0 1063.6L1285.4 1047.2M1283.5 1047.2L1299.9 1063.6M1283.5 1063.6L1299.9 1047.2M1298.0 1047.2L1314.4 1063.6M1298.0 1063.6L1314.4 1047.2M1312.5 1048.0L1328.9 1064.4M1312.5 1064.4L1328.9 1048.0M1327.0 1049.4L1343.4 1065.8M1327.0 1065.8L1343.4 1049.4M1341.5 1047.9L1357.9 1064.3M1341.5 1064.3L1357.9 1047.9M1356.0 1047.2L1372.4 1063.6M1356.0 1063.6L1372.4 1047.2M1370.5 1047.2L1386.9 1063.6M1370.5 1063.6L1386.9 1047.2M1385.0 1046.1L1401.4 1062.5M1385.0 1062.5L1401.4 1046.1M1399.5 1043.6L1415.9 1060.0M1399.5 1060.0L1415.9 1043.6M1414.0 1043.2L1430.4 1059.6M1414.0 1059.6L1430.4 1043.2M1428.5 1043.2L1444.9 1059.6M1428.5 1059.6L1444.9 1043.2M1443.0 1043.2L1459.4 1059.6M1443.0 1059.6L1459.4 1043.2M1457.5 1042.7L1473.9 1059.1M1457.5 1059.1L1473.9 1042.7M1472.0 1041.5L1488.4 1057.9M1472.0 1057.9L1488.4 1041.5M1486.5 1039.7L1502.9 1056.1M1486.5 1056.1L1502.9 1039.7M1501.0 1038.7L1517.4 1055.1M1501.0 1055.1L1517.4 1038.7M1515.5 1038.7L1531.9 1055.1M1515.5 1055.1L1531.9 1038.7M1530.0 1038.7L1546.4 1055.1M1530.0 1055.1L1546.4 1038.7M1544.5 1038.7L1560.9 1055.1M1544.5 1055.1L1560.9 1038.7M1559.0 1040.1L1575.4 1056.5M1559.0 1056.5L1575.4 1040.1M1573.5 1042.5L1589.9 1058.9M1573.5 1058.9L1589.9 1042.5M1588.0 1043.0L1604.4 1059.4M1588.0 1059.4L1604.4 1043.0M1602.5 1043.0L1618.9 1059.4M1602.5 1059.4L1618.9 1043.0M1617.0 1043.0L1633.4 1059.4M1617.0 1059.4L1633.4 1043.0M1631.5 1043.0L1647.9 1059.4M1631.5 1059.4L1647.9 1043.0M1646.0 1041.6L1662.4 1058.0M1646.0 1058.0L1662.4 1041.6M1660.5 1039.3L1676.9 1055.7M1660.5 1055.7L1676.9 1039.3M1675.0 1038.7L1691.4 1055.1M1675.0 1055.1L1691.4 1038.7M1689.5 1037.3L1705.9 1053.7M1689.5 1053.7L1705.9 1037.3M1704.0 1036.8L1720.5 1053.2M1704.0 1053.2L1720.5 1036.8M1718.6 1038.1L1735.0 1054.5M1718.6 1054.5L1735.0 1038.1M1733.1 1038.7L1749.5 1055.1M1733.1 1055.1L1749.5 1038.7M1747.6 1038.7L1764.0 1055.1M1747.6 1055.1L1764.0 1038.7M1762.1 1037.6L1778.5 1054.0M1762.1 1054.0L1778.5 1037.6M1776.6 1035.7L1793.0 1052.1M1776.6 1052.1L1793.0 1035.7M1791.1 1035.1L1807.5 1051.5M1791.1 1051.5L1807.5 1035.1M1805.6 1035.1L1822.0 1051.5M1805.6 1051.5L1822.0 1035.1M1820.1 1035.1L1836.5 1051.5M1820.1 1051.5L1836.5 1035.1M1834.6 1035.1L1851.0 1051.5M1834.6 1051.5L1851.0 1035.1M1849.1 1035.1L1865.5 1051.5M1849.1 1051.5L1865.5 1035.1M1863.6 1035.1L1880.0 1051.5M1863.6 1051.5L1880.0 1035.1M1878.1 1035.1L1894.5 1051.5M1878.1 1051.5L1894.5 1035.1M1892.6 1033.8L1909.0 1050.2M1892.6 1050.2L1909.0 1033.8M1907.1 1033.3L1923.5 1049.7M1907.1 1049.7L1923.5 1033.3M1921.6 1033.5L1938.0 1049.9M1921.6 1049.9L1938.0 1033.5M1936.1 1032.3L1952.5 1048.7M1936.1 1048.7L1952.5 1032.3M1950.6 1031.5L1967.0 1047.9M1950.6 1047.9L1967.0 1031.5M1965.1 1031.5L1981.5 1047.9M1965.1 1047.9L1981.5 1031.5M1979.6 1031.5L1996.0 1047.9M1979.6 1047.9L1996.0 1031.5M1994.1 1031.5L2010.5 1047.9M1994.1 1047.9L2010.5 1031.5"/>
</g>
<rect x="1150.2" y="1216.3" width="816.0" height="140.3" fill="#ffffff" stroke="#181818" stroke-width="4.0"/>
<g stroke="#ff0000" fill="none" stroke-width="12.3">
<line x1="1166" y1="1252.3" x2="1328" y2="1252.3"/>
<path stroke="none" fill="#ff0000" d="M1246.5 1224.7L1268.0 1252.9L1246.5 1281.1L1225.0 1252.9ZM1246.5 1240.9L1236.0 1252.9L1246.5 1264.9L1257.0 1252.9Z"/>
</g>
<g stroke="#00ff00" fill="none" stroke-width="12.3" stroke-linecap="round">
<line x1="1171.5" y1="1321.2" x2="1322.5" y2="1321.2"/>
<path stroke-width="9.5" d="M1239 1311L1254 1331.4M1239 1331.4L1254 1311"/>
</g>
<g font-family="'Liberation Sans', Arial, Helvetica, sans-serif" fill="#333333" stroke="#333333" stroke-width="0.7" stroke-linejoin="round">
<text x="258.6" y="1508" font-size="52.0" text-anchor="middle">0</text>
<text x="453.1" y="1508" font-size="52.0" text-anchor="middle">20</text>
<text x="645.6" y="1508" font-size="52.0" text-anchor="middle">40</text>
<text x="842.6" y="1508" font-size="52.0" text-anchor="middle">60</text>
<text x="1035.5" y="1508" font-size="52.0" text-anchor="middle">80</text>
<text x="1228.1" y="1508" font-size="52.0" text-anchor="middle">100</text>
<text x="1420.6" y="1508" font-size="52.0" text-anchor="middle">120</text>
<text x="1617.3" y="1508" font-size="52.0" text-anchor="middle">140</text>
<text x="1810.6" y="1508" font-size="52.0" text-anchor="middle">160</text>
<text x="2003.2" y="1508" font-size="52.0" text-anchor="middle">180</text>
<text x="131.3" y="1254.2" font-size="52.0">10<tspan x="191.3" y="1229.3" font-size="44.0">12</tspan></text>
<text x="131.3" y="189.0" font-size="52.0">10<tspan x="191.3" y="164.1" font-size="44.0">13</tspan></text>
<text transform="translate(1129.9 1595.2) scale(0.958 1)" x="0" y="0" font-size="66.8" text-anchor="middle">t, s</text>
<text transform="translate(69.8 860.0) rotate(-90)"><tspan x="19.71" y="0.0" font-family="'Liberation Serif', 'DejaVu Serif', serif" font-style="italic" font-size="60.0" textLength="30.24" lengthAdjust="spacingAndGlyphs">ρ</tspan><tspan x="50.87" y="33.0" font-family="'Liberation Sans', Arial, Helvetica, sans-serif" font-style="normal" font-size="52.7" textLength="27.93" lengthAdjust="spacingAndGlyphs">s</tspan><tspan x="78.49" y="0.0" font-family="'Liberation Sans', Arial, Helvetica, sans-serif" font-style="normal" font-size="60.0" textLength="18.34" lengthAdjust="spacingAndGlyphs">,</tspan><tspan x="116.17" y="0.0" font-family="'Liberation Serif', 'DejaVu Serif', serif" font-style="normal" font-size="68.5" textLength="48.87" lengthAdjust="spacingAndGlyphs">Ω</tspan><tspan x="163.51" y="0.0" font-family="'Liberation Sans', Arial, Helvetica, sans-serif" font-style="normal" font-size="60.0" textLength="53.98" lengthAdjust="spacingAndGlyphs">m</tspan></text>
</g>
<g font-family="'Liberation Sans', Arial, Helvetica, sans-serif" fill="#1a1a1a" stroke="#1a1a1a" stroke-width="0.7" stroke-linejoin="round" font-size="50.0">
<text transform="translate(1336.4 1274.3) scale(0.963 1)" x="0" y="0">NOVUM printed sample</text>
<text transform="translate(1336.4 1338.6) scale(0.963 1)" x="0" y="0">Standard technology sample</text>
</g>
</svg>
</body>
</html>
